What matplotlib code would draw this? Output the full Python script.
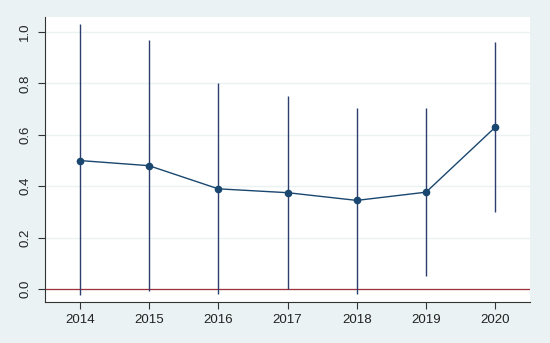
import numpy as np
import matplotlib.pyplot as plt

years = [2014, 2015, 2016, 2017, 2018, 2019, 2020]
estimate = [0.50, 0.48, 0.39, 0.375, 0.345, 0.377, 0.63]
ci_low = [-0.023, -0.007, -0.02, 0.0, -0.017, 0.05, 0.30]
ci_high = [1.03, 0.97, 0.80, 0.75, 0.705, 0.705, 0.96]
yticks = [0.0, 0.2, 0.4, 0.6, 0.8, 1.0]

plt.rcParams['font.family'] = ['Liberation Sans', 'DejaVu Sans']

fig = plt.figure(figsize=(5.5, 3.43), dpi=100)
fig.patch.set_facecolor('#eaf2f3')
ax = fig.add_axes([45 / 550, 1 - 302 / 343, 485 / 550, 285 / 343])
ax.set_facecolor('white')

navy = '#1a476f'
ax.vlines(years, ci_low, ci_high, color='#2d3e6e', lw=1.0, zorder=2)
ax.plot(years, estimate, color=navy, lw=1.0, marker='o', ms=4.5, zorder=3)
ax.axhline(0, color='#a0303a', lw=0.9, zorder=1)

ax.set_xlim(2013.5, 2020.5)
ax.set_ylim(-0.05, 1.058)
ax.set_xticks(years)
ax.set_yticks(yticks)
ax.set_yticklabels(['%.1f' % v for v in yticks], rotation=90, va='center')
ax.grid(axis='y', color='#eaf2f3', lw=1.0, zorder=0)
ax.set_axisbelow(True)
for s in ['top', 'right']:
    ax.spines[s].set_visible(False)
for s in ['left', 'bottom']:
    ax.spines[s].set_color('#333333')
    ax.spines[s].set_linewidth(0.8)
ax.tick_params(labelsize=9.5, length=5, width=0.8, color='#333333', labelcolor='#222222')
ax.tick_params(axis='y', pad=5)

fig.savefig('out.png', dpi=100, facecolor=fig.get_facecolor())
